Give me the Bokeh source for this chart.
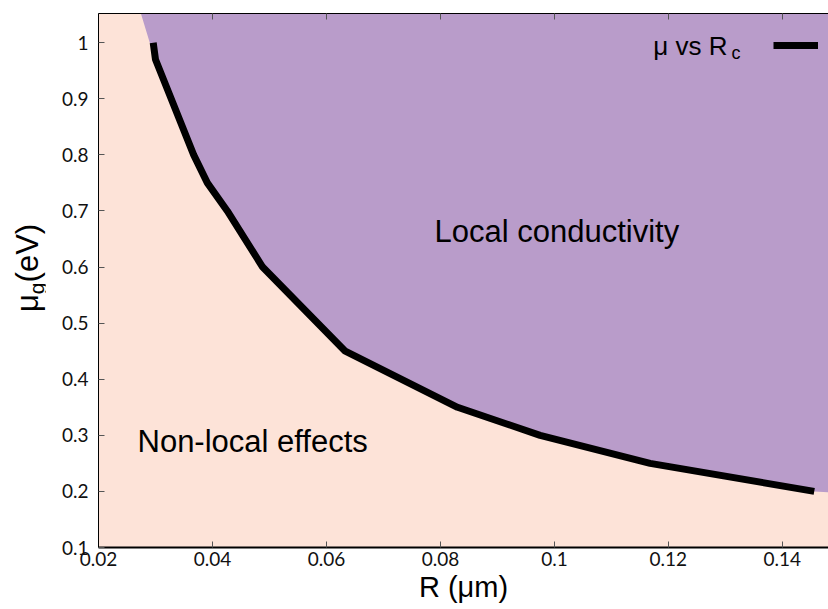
import math
from bokeh.plotting import figure
from bokeh.models import Range1d, FixedTicker, LinearAxis, Label, Legend, LegendItem, Div
from bokeh.layouts import row
from bokeh.embed import file_html
from bokeh.resources import INLINE

# ---- data ----
curve_r = [0.0296, 0.0300, 0.0367, 0.0391, 0.0426, 0.0488, 0.0633, 0.0830, 0.0975, 0.1168, 0.1456]
curve_mu = [1.00, 0.97, 0.80, 0.75, 0.70, 0.60, 0.45, 0.35, 0.30, 0.25, 0.20]

# boundary of the "local conductivity" region (follows the curve)
region_top_r = [0.0272, 0.0290]
region_top_mu = [1.06, 1.00]
region_end_r = [0.1490, 0.1490]
region_end_mu = [0.198, 1.06]

x_ticks = [0.02, 0.04, 0.06, 0.08, 0.10, 0.12, 0.14]
x_tick_labels = ["0.02", "0.04", "0.06", "0.08", "0.1", "0.12", "0.14"]
y_ticks = [0.1, 0.2, 0.3, 0.4, 0.5, 0.6, 0.7, 0.8, 0.9, 1.0]
y_tick_labels = ["0.1", "0.2", "0.3", "0.4", "0.5", "0.6", "0.7", "0.8", "0.9", "1"]

x_range = (0.02, 0.1481)
y_range = (0.1, 1.052)

PEACH = "#fde3d8"
PURPLE = "#b99cca"
TICK_FONT = "Lato"
TEXT_FONT = "Liberation Sans"

LABEL_W = 45

p = figure(width=828 - LABEL_W, height=609, output_backend="svg", toolbar_location=None,
           x_range=Range1d(*x_range), y_range=Range1d(*y_range),
           min_border_left=98 - LABEL_W, min_border_right=0, min_border_top=13,
           min_border_bottom=62, x_axis_location=None, y_axis_location=None)
p.background_fill_color = PEACH
p.border_fill_color = "white"
p.outline_line_color = None
p.grid.visible = False

region_r = region_top_r + curve_r[1:] + region_end_r
region_mu = region_top_mu + curve_mu[1:] + region_end_mu
p.patch(region_r, region_mu, fill_color=PURPLE, line_color=None)

line_r = p.line(curve_r, curve_mu, line_width=7, line_color="black")

def style_axis(ax, labels, ticks, width):
    ax.ticker = FixedTicker(ticks=ticks)
    ax.major_label_overrides = {t: l for t, l in zip(ticks, labels)}
    ax.minor_tick_line_color = None
    ax.major_tick_in = 6
    ax.major_tick_out = 0
    ax.major_tick_line_color = "#555555"
    ax.axis_line_color = "black"
    ax.axis_line_width = width
    ax.major_label_text_font = TICK_FONT
    ax.major_label_text_font_size = "19px"
    ax.major_label_text_color = "#111111"

xaxis = LinearAxis()
style_axis(xaxis, x_tick_labels, x_ticks, 2)
xaxis.major_label_standoff = 4
xaxis.axis_label = "R (μm)"
xaxis.axis_label_text_font = TEXT_FONT
xaxis.axis_label_text_font_size = "29px"
xaxis.axis_label_text_font_style = "normal"
xaxis.axis_label_text_color = "black"
xaxis.axis_label_standoff = 2
p.add_layout(xaxis, "below")

yaxis = LinearAxis()
style_axis(yaxis, y_tick_labels, y_ticks, 1)
yaxis.major_label_standoff = 10
p.add_layout(yaxis, "left")

topaxis = LinearAxis()
style_axis(topaxis, ["" for _ in x_ticks], x_ticks, 1)
topaxis.major_label_text_font_size = "0px"
topaxis.major_label_standoff = 0
p.add_layout(topaxis, "above")

# annotations inside the frame (screen units relative to frame bottom-left)
def add_label(text, x, y, size, align="left"):
    p.add_layout(Label(x=x, y=y, x_units="screen", y_units="screen", text=text,
                       text_font=TEXT_FONT, text_font_size=size, text_align=align,
                       text_baseline="alphabetic", text_color="black"))

add_label("Local conductivity", 336, 316, "31px")
add_label("Non-local effects", 39, 106, "31px")
add_label("μ vs R", 629, 502, "26px", align="right")
add_label("c", 633, 495, "18px")

leg = Legend(items=[LegendItem(label=" ", renderers=[line_r])], location=(675, 498),
             glyph_width=45, glyph_height=8, label_width=0, label_height=8,
             label_standoff=0, padding=0, spacing=0, margin=0,
             background_fill_alpha=0, border_line_color=None,
             label_text_font_size="1px")
p.add_layout(leg)

# y-axis title with subscript, as rotated HTML text
ylabel_html = (
    '<div style="position:relative;width:%dpx;height:609px;">'
    '<div style="position:absolute;left:12px;top:312px;transform:rotate(-90deg);'
    'transform-origin:0 0;white-space:nowrap;font-family:\'Liberation Sans\';'
    'font-size:31px;line-height:31px;color:black;">'
    'μ<span style="font-size:21px;position:relative;top:6px;">g</span>(eV)</div></div>'
) % LABEL_W
ydiv = Div(text=ylabel_html, width=LABEL_W, height=609, margin=0)

layout = row(ydiv, p, spacing=0)
open("out.html", "w").write(file_html(layout, INLINE))
